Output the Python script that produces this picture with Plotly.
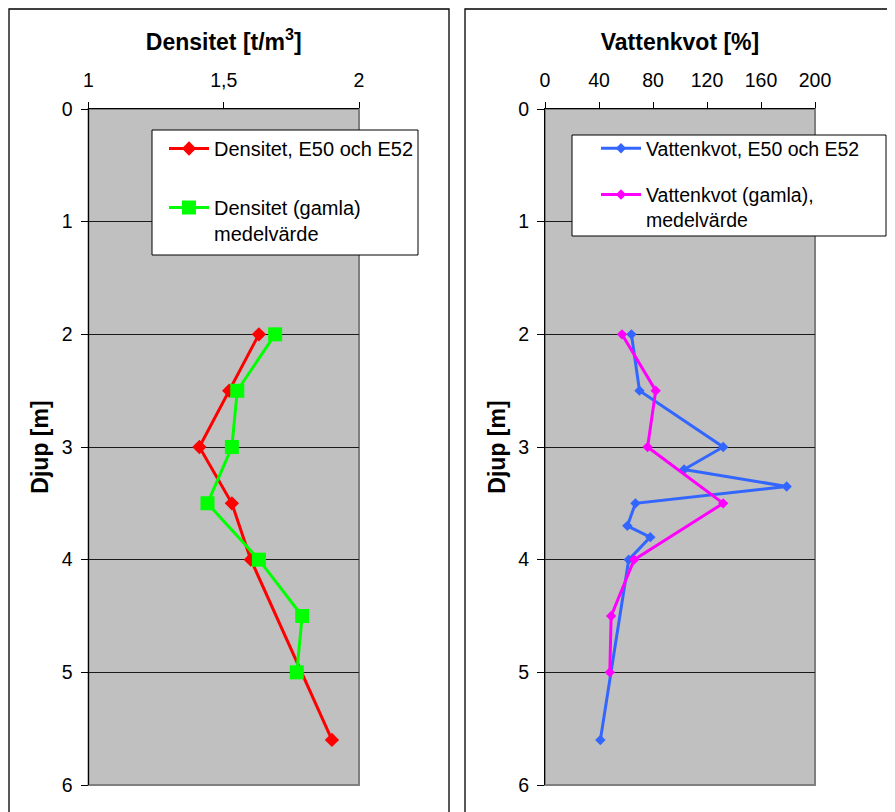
import plotly.graph_objects as go

# ---- data ----
depth_dens_new = [2.0, 2.5, 3.0, 3.5, 4.0, 5.6]
dens_new = [1.63, 1.52, 1.41, 1.53, 1.60, 1.90]
depth_dens_old = [2.0, 2.5, 3.0, 3.5, 4.0, 4.5, 5.0]
dens_old = [1.69, 1.55, 1.53, 1.44, 1.63, 1.79, 1.77]

depth_w_new = [2.0, 2.5, 3.0, 3.2, 3.35, 3.5, 3.7, 3.8, 4.0, 5.6]
w_new = [64, 70, 132, 103, 179, 67, 61, 78, 62, 41]
depth_w_old = [2.0, 2.5, 3.0, 3.5, 4.0, 4.5, 5.0]
w_old = [57, 82, 76, 132, 66, 49, 48]

# page body has an 8px margin; figure sized so it ends at the window edge
OFF = 8
W, H = 895 - OFF, 812 - OFF
FONT = "Liberation Sans, Arial, sans-serif"

def px(x):
    return (x - OFF) / W

def py(y):
    return 1 - (y - OFF) / H

fig = go.Figure()

fig.add_trace(go.Scatter(
    x=dens_new, y=depth_dens_new, mode="lines+markers",
    name="Densitet, E50 och E52", legendgroup="a", legend="legend",
    line=dict(color="#FF0000", width=3),
    marker=dict(symbol="diamond", size=11, color="#FF0000"),
    xaxis="x", yaxis="y"))
fig.add_trace(go.Scatter(
    x=dens_old, y=depth_dens_old, mode="lines+markers",
    name="Densitet (gamla)<br>medelvärde", legendgroup="b", legend="legend",
    line=dict(color="#00FF00", width=3),
    marker=dict(symbol="square", size=14, color="#00FF00"),
    xaxis="x", yaxis="y"))
fig.add_trace(go.Scatter(
    x=w_new, y=depth_w_new, mode="lines+markers",
    name="Vattenkvot, E50 och E52", legendgroup="c", legend="legend2",
    line=dict(color="#3366FF", width=3),
    marker=dict(symbol="diamond", size=8, color="#3366FF"),
    xaxis="x2", yaxis="y2"))
fig.add_trace(go.Scatter(
    x=w_old, y=depth_w_old, mode="lines+markers",
    name="Vattenkvot (gamla),<br>medelvärde", legendgroup="d", legend="legend2",
    line=dict(color="#FF00FF", width=3),
    marker=dict(symbol="diamond", size=8, color="#FF00FF"),
    xaxis="x2", yaxis="y2"))

ydom = [py(785), py(109)]
tickfont = dict(family=FONT, size=19.5, color="black")
titlefont = dict(family=FONT, size=23, color="black", weight="bold")

common_y = dict(
    range=[6, 0], dtick=1, tick0=0, domain=ydom, automargin=False,
    showline=True, linecolor="black", linewidth=1,
    ticks="outside", ticklen=7, tickcolor="black",
    showgrid=True, gridcolor="#1a1a1a", gridwidth=1,
    zeroline=False, tickfont=tickfont, ticklabelstandoff=4,
    title=dict(text="<b>Djup [m]</b>", font=titlefont, standoff=6),
)
common_x = dict(
    side="top", showline=True, linecolor="black", linewidth=1, automargin=False,
    ticks="outside", ticklen=6, tickcolor="black",
    showgrid=False, zeroline=False, tickfont=tickfont,
    ticklabelstandoff=7,
)

fig.update_layout(
    width=W, height=H,
    margin=dict(l=0, r=0, t=0, b=0, autoexpand=False),
    paper_bgcolor="white", plot_bgcolor="#C0C0C0",
    separators=", ",
    font=dict(family=FONT, size=19, color="black"),
    xaxis=dict(common_x, domain=[px(88.5), px(359)], range=[1, 2], dtick=0.5, tick0=1,
               anchor="y",
               title=dict(text="<b>Densitet [t/m<sup>3</sup>]</b>", font=titlefont, standoff=12)),
    yaxis=dict(common_y, anchor="x"),
    xaxis2=dict(common_x, domain=[px(545), px(815)], range=[0, 200], dtick=40, tick0=0,
                anchor="y2",
                title=dict(text="<b>Vattenkvot [%]</b>", font=titlefont, standoff=12)),
    yaxis2=dict(common_y, anchor="x2"),
    legend=dict(x=px(164), y=py(129), xanchor="left", yanchor="top",
                bgcolor="rgba(0,0,0,0)", borderwidth=0,
                font=dict(family=FONT, size=20, color="black"),
                tracegroupgap=30, valign="top", itemwidth=40),
    legend2=dict(x=px(596), y=py(129), xanchor="left", yanchor="top",
                 bgcolor="rgba(0,0,0,0)", borderwidth=0,
                 font=dict(family=FONT, size=19.5, color="black"),
                 tracegroupgap=18, valign="top", itemwidth=40),
    showlegend=True,
)

shapes = []
# plot-area grey borders (bottom/right)
for xr, yr in (("x domain", "y domain"), ("x2 domain", "y2 domain")):
    shapes.append(dict(type="rect", xref=xr, yref=yr, x0=0, x1=1, y0=0, y1=1,
                       line=dict(color="#808080", width=2), fillcolor="rgba(0,0,0,0)",
                       layer="below"))
# panel borders
shapes.append(dict(type="rect", xref="paper", yref="paper",
                   x0=px(9), x1=px(449), y0=-0.02, y1=py(9),
                   line=dict(color="black", width=1.3), fillcolor="rgba(0,0,0,0)"))
shapes.append(dict(type="rect", xref="paper", yref="paper",
                   x0=px(465), x1=1.02, y0=-0.02, y1=py(9),
                   line=dict(color="black", width=1.3), fillcolor="rgba(0,0,0,0)"))
# legend boxes
shapes.append(dict(type="rect", xref="paper", yref="paper",
                   x0=px(152), x1=px(418), y0=py(255), y1=py(130),
                   line=dict(color="black", width=1), fillcolor="white", layer="above"))
shapes.append(dict(type="rect", xref="paper", yref="paper",
                   x0=px(572), x1=px(886), y0=py(236), y1=py(135),
                   line=dict(color="black", width=1), fillcolor="white", layer="above"))
fig.update_layout(shapes=shapes)

fig.write_html("out.html")
